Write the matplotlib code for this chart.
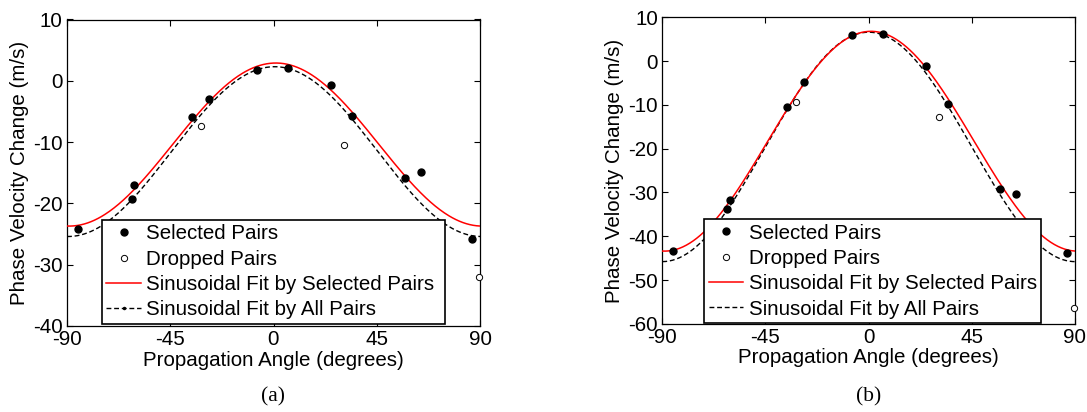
import numpy as np
import matplotlib
matplotlib.use('Agg')
import matplotlib.pyplot as plt
from matplotlib.lines import Line2D

plt.rcParams['font.family'] = ['Liberation Sans', 'DejaVu Sans']
plt.rcParams['axes.unicode_minus'] = False

# Angles of the pairs (degrees), shared by both panels
sel_angle = [-85.4, -61.6, -60.6, -35.6, -28.0, -7.2, 6.2, 24.9, 34.4, 57.5, 64.4, 86.4]
drop_angle = [-31.6, 30.6, 89.7]

# Panel (a)
sel_a = [-24.1, -19.3, -17.0, -5.85, -3.0, 1.76, 2.14, -0.7, -5.75, -15.9, -14.8, -25.8]
drop_a = [-7.4, -10.5, -32.0]
# sinusoidal fits: offset, amplitude, phase (deg)
fit_sel_a = [-10.4, 13.3, 1.0]
fit_all_a = [-11.55, 13.85, 0.5]

# Panel (b)
sel_b = [-43.4, -33.8, -31.7, -10.4, -4.8, 6.0, 6.1, -1.1, -9.9, -29.2, -30.4, -43.8]
drop_b = [-9.3, -12.7, -56.5]
fit_sel_b = [-18.3, 25.1, 1.0]
fit_all_b = [-19.6, 26.2, 0.0]

xticks = [-90, -45, 0, 45, 90]
FS = 14.8


def sinus(p, th):
    return p[0] + p[1] * np.cos(np.radians(2 * (th - p[2])))


def panel(ax, sel, drop, fit_sel, fit_all, ylim, yticks, leg_box, dot_marker):
    th = np.linspace(-90, 90, 361)
    ax.plot(th, sinus(fit_all, th), color='black', linestyle='--', linewidth=1.0,
            dashes=(3.5, 2), zorder=2)
    ax.plot(th, sinus(fit_sel, th), color='red', linewidth=1.1, zorder=3)
    ax.plot(sel_angle, sel, 'o', color='black', markersize=5, zorder=4, clip_on=False)
    ax.plot(drop_angle, drop, 'o', markerfacecolor='white', markeredgecolor='black',
            markeredgewidth=0.7, markersize=4.5, zorder=4, clip_on=False)
    ax.set_xlim(-90, 90)
    ax.set_ylim(*ylim)
    ax.set_xticks(xticks)
    ax.set_yticks(yticks)
    ax.tick_params(direction='in', top=True, right=True, length=4, width=0.8,
                   labelsize=FS, pad=3)
    ax.tick_params(axis='x', pad=3)
    for s in ax.spines.values():
        s.set_linewidth(0.9)
    ax.set_xlabel('Propagation Angle (degrees)', fontsize=FS, labelpad=1)
    ax.set_ylabel('Phase Velocity Change (m/s)', fontsize=FS, labelpad=3)

    handles = [
        Line2D([], [], marker='o', color='black', linestyle='none', markersize=5),
        Line2D([], [], marker='o', markerfacecolor='white', markeredgecolor='black',
               markeredgewidth=0.7, linestyle='none', markersize=4.5),
        Line2D([], [], color='red', linewidth=1.1),
        Line2D([], [], color='black', linestyle='--', dashes=(3.5, 2), linewidth=1.0,
               marker='.' if dot_marker else None, markersize=3),
    ]
    labels = ['Selected Pairs', 'Dropped Pairs', 'Sinusoidal Fit by Selected Pairs',
              'Sinusoidal Fit by All Pairs']
    leg = ax.legend(handles, labels, loc='lower left', bbox_to_anchor=leg_box,
                    mode='expand', fontsize=FS, frameon=True, fancybox=False,
                    framealpha=1, edgecolor='black', borderaxespad=0, borderpad=0.22,
                    handlelength=1.7, handletextpad=0.25, labelspacing=0.31)
    leg.get_frame().set_linewidth(1.2)
    leg.set_zorder(5)


fig = plt.figure(figsize=(10.87, 4.12), dpi=100)
ax_a = fig.add_axes([67 / 1087, 86 / 412, 413 / 1087, 306.5 / 412])
ax_b = fig.add_axes([662.3 / 1087, 88.2 / 412, 412.7 / 1087, 306.5 / 412])

panel(ax_a, sel_a, drop_a, fit_sel_a, fit_all_a, (-40, 10), range(-40, 11, 10),
      (0.084, 0.0065, 0.831, 0.33), True)
panel(ax_b, sel_b, drop_b, fit_sel_b, fit_all_b, (-60, 10), range(-60, 11, 10),
      (0.101, 0.002, 0.816, 0.33), False)

fig.text(273 / 1087, 1 - 397 / 412, '(a)', family='Liberation Serif', fontsize=15.5,
         ha='center', va='center')
fig.text(868.5 / 1087, 1 - 397 / 412, '(b)', family='Liberation Serif', fontsize=15.5,
         ha='center', va='center')

fig.savefig('out.png', dpi=100)
